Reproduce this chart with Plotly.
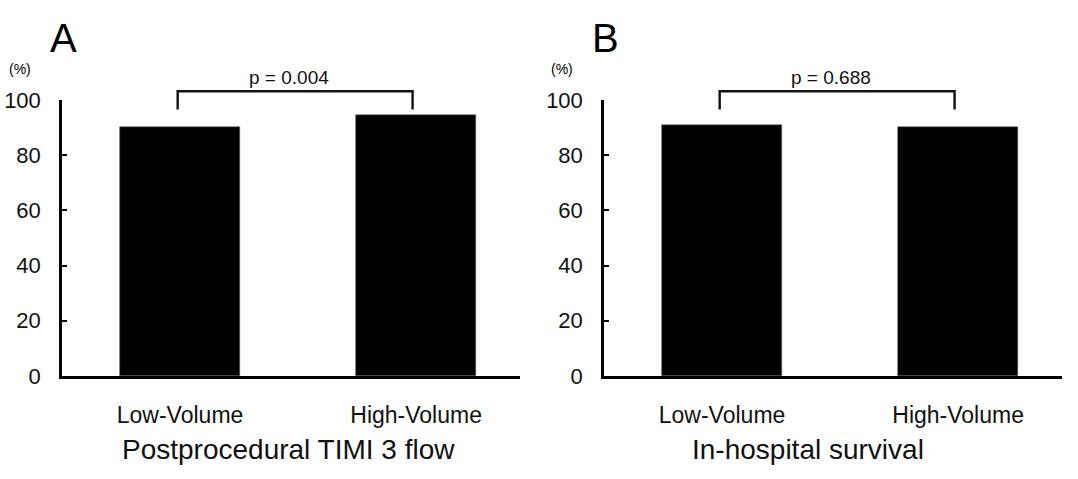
import plotly.graph_objects as go

W, H = 1078, 479

categories = ["Low-Volume", "High-Volume"]
timi3_flow = [90.3, 94.4]
survival = [90.8, 90.1]
p_values = ["p = 0.004", "p = 0.688"]
panel_titles = ["Postprocedural TIMI 3 flow", "In-hospital survival"]
panel_letters = ["A", "B"]
y_ticks = [0, 20, 40, 60, 80, 100]
bracket_top = 103.2
bracket_bottom = 96.6

FONT = "Liberation Sans, Arial, sans-serif"

x_domains = [[62 / W, 520 / W], [604 / W, 1062 / W]]
y_domain = [1 - 384 / H, 1 - 93 / H]
x_range = [-0.5, 1.44]
y_range = [0, 100]
title_x_px = [288, 808]

fig = go.Figure()
for i, vals in enumerate([timi3_flow, survival]):
    ax = "" if i == 0 else str(i + 1)
    fig.add_trace(go.Bar(
        x=[0, 1], y=vals, width=0.51,
        marker=dict(color="black", line=dict(color="#555", width=0.6)),
        xaxis="x" + ax, yaxis="y" + ax, showlegend=False,
        hoverinfo="y",
    ))


def px(i, v):
    d = x_domains[i]
    return d[0] + (v - x_range[0]) / (x_range[1] - x_range[0]) * (d[1] - d[0])


def py(v):
    return y_domain[0] + (v - y_range[0]) / (y_range[1] - y_range[0]) * (y_domain[1] - y_domain[0])


shapes = []
annotations = []
for i in range(2):
    x0, x1 = px(i, -0.01), px(i, 0.985)
    yt, yb = py(bracket_top), py(bracket_bottom)
    shapes.append(dict(type="path", xref="paper", yref="paper",
                       path=f"M {x0},{yb} L {x0},{yt} L {x1},{yt} L {x1},{yb}",
                       line=dict(color="#111", width=2.4)))
    annotations.append(dict(text=p_values[i], xref="paper", yref="paper",
                            x=(x0 + x1) / 2 - 6 / W, y=1 - 69 / H, xanchor="center", yanchor="middle",
                            showarrow=False, font=dict(size=19, color="#111", family=FONT)))
    annotations.append(dict(text=panel_titles[i], xref="paper", yref="paper",
                            x=title_x_px[i] / W, y=1 - 462 / H, xanchor="center", yanchor="middle",
                            showarrow=False, font=dict(size=28, color="#111", family=FONT)))
    annotations.append(dict(text=panel_letters[i], xref="paper", yref="paper",
                            x=x_domains[i][0] - 14 / W, y=1 - 27 / H, xanchor="left", yanchor="middle",
                            showarrow=False, font=dict(size=40, color="black", family=FONT)))
    annotations.append(dict(text="(%)", xref="paper", yref="paper",
                            x=x_domains[i][0] - 42 / W, y=1 - 60 / H, xanchor="center", yanchor="middle",
                            showarrow=False, font=dict(size=14, color="black", family=FONT)))

layout = dict(
    width=W, height=H, margin=dict(l=0, r=0, t=0, b=0, pad=0),
    paper_bgcolor="white", plot_bgcolor="white",
    shapes=shapes, annotations=annotations, bargap=0,
)
for i in range(2):
    ax = "" if i == 0 else str(i + 1)
    layout["xaxis" + ax] = dict(
        domain=x_domains[i], range=x_range, anchor="y" + ax,
        tickmode="array", tickvals=[0, 1], ticktext=categories,
        showline=True, linecolor="black", linewidth=2.5, ticks="",
        showgrid=False, zeroline=False, ticklabelstandoff=17,
        tickfont=dict(size=23, color="#111", family=FONT), fixedrange=True,
    )
    layout["yaxis" + ax] = dict(
        domain=y_domain, range=y_range, anchor="x" + ax,
        tickmode="array", tickvals=y_ticks,
        showline=True, linecolor="black", linewidth=2.5,
        ticks="inside", ticklen=5, tickwidth=2, tickcolor="black",
        showgrid=False, zeroline=False, ticklabelstandoff=14,
        tickfont=dict(size=22, color="#111", family=FONT), fixedrange=True,
    )
fig.update_layout(**layout)
fig.write_html("out.html")
